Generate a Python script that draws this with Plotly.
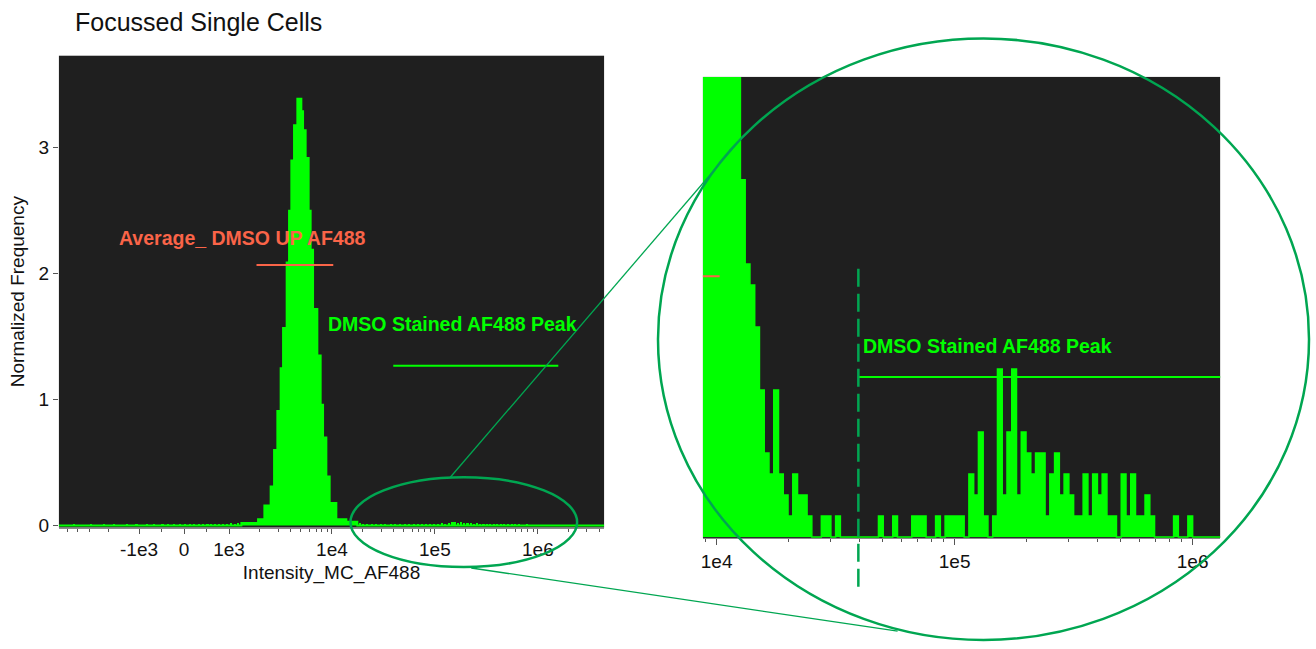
import math
import plotly.graph_objects as go

W, H = 1316, 649
FONT = "Liberation Sans, Arial, sans-serif"
GREEN = "#00FF00"
RING = "#00A651"
ORANGE = "#FA6448"
PANEL_BG = "#1F1F1F"

# ---------------- data ----------------
# Main population histogram: left bin edges (intensity) and normalized frequency per bin
peak_edges = [1319, 1916, 2206, 2539, 2741, 2950, 3176, 3351, 3633, 3832, 4034, 4284, 4613,
              5044, 5240, 5554, 5938, 6210, 6552, 7213, 7768, 8194, 8822, 9497, 11030, 13796, 17640]
peak_freq = [0.02, 0.05, 0.16, 0.31, 0.60, 0.91, 1.25, 1.57, 2.09, 2.50, 2.90, 3.18, 3.39,
             3.29, 3.14, 2.92, 2.50, 2.19, 1.72, 1.35, 0.96, 0.70, 0.39, 0.18, 0.05, 0.03]

# Sparse low-frequency events away from the main peak
sparse_intensity = [-4300, -2950, -2200, -1750, -1300, -1060, -820, -660, -480, -350, -220, -100,
                    20, 130, 230, 330, 430, 520, 600, 690, 780, 870, 950, 1040, 1130, 1230,
                    18500, 20000, 22000, 24500, 27000, 30000, 33000, 37000, 41000, 46000, 51000,
                    56000, 62000, 68000, 75000, 82000, 90000, 98000, 107000, 116000, 126000,
                    137000, 148000, 158000, 168000, 180000, 193000, 207000, 222000, 238000,
                    256000, 275000, 296000, 320000, 345000, 372000, 402000, 435000, 470000,
                    510000, 555000, 605000, 660000, 720000, 790000, 870000, 960000, 1050000]
sparse_freq = [0.008, 0.010, 0.008, 0.012, 0.008, 0.010, 0.008, 0.012, 0.010, 0.012, 0.008, 0.012,
               0.010, 0.014, 0.010, 0.014, 0.012, 0.016, 0.012, 0.016, 0.014, 0.018, 0.016, 0.020,
               0.018, 0.022,
               0.020, 0.012, 0.016, 0.010, 0.012, 0.008, 0.010, 0.008, 0.010, 0.012, 0.008,
               0.012, 0.010, 0.014, 0.012, 0.016, 0.012, 0.018, 0.014, 0.020, 0.016,
               0.022, 0.028, 0.032, 0.026, 0.030, 0.022, 0.020, 0.024, 0.018,
               0.020, 0.016, 0.018, 0.014, 0.016, 0.012, 0.014, 0.012, 0.014,
               0.010, 0.012, 0.008, 0.010, 0.006, 0.008, 0.006, 0.006, 0.005]

# Magnified view: event counts per log10 bin (bins start at 10^3.94, 0.02 decade wide)
ZOOM_LOG_START = 3.94
ZOOM_LOG_WIDTH = 0.02
FREQ_PER_EVENT = 0.1668
zoom_counts = [
    60, 52, 46, 40, 35, 31, 27, 24, 17, 13,
    12, 10, 7, 4, 3, 7, 3, 2, 1, 3,
    2, 2, 1, 0, 0, 1, 1, 0, 1, 0,
    0, 0, 0, 0, 0, 0, 0, 1, 0, 0,
    1, 0, 0, 0, 1, 1, 1, 0, 0, 1,
    0, 1, 1, 1, 1, 0, 3, 2, 5, 1,
    0, 1, 8, 2, 5, 8, 2, 5, 4, 3,
    4, 4, 1, 3, 4, 2, 3, 2, 1, 1,
    3, 1, 3, 2, 3, 1, 1, 0, 3, 1,
    3, 1, 1, 2, 1, 0, 0, 0, 0, 1,
    0, 0, 1, 0, 0, 0, 0, 0, 0,
]

# Gates: intensity limits and the frequency level at which each is drawn
avg_gate = [1850, 10300]
avg_gate_level = 2.07
peak_gate = [39400, 1580000]
peak_gate_level = 1.27

# Axis limits and ticks
left_limits = [-6000, 4.4e6]
left_major = [-1e3, 0, 1e3, 1e4, 1e5, 1e6]
left_major_text = ["-1e3", "0", "1e3", "1e4", "1e5", "1e6"]
left_minor = [-5e3, -4e3, -3e3, -2e3, -500, 500] + [m * 10 ** e for e in (3, 4, 5) for m in range(2, 10)] + [2e6, 3e6, 4e6]
zoom_limits = [8.76e3, 1.305e6]
zoom_major = [1e4, 1e5, 1e6]
zoom_major_text = ["1e4", "1e5", "1e6"]
zoom_minor = [9e3] + [m * 10 ** e for e in (4, 5) for m in range(2, 10)]

# ---------------- scales ----------------
LIN_LIMIT = 1000.0     # half width of the linear region around zero
LIN_DECADES = 0.437    # size of that region, in decades of the log part


def to_axis(v):
    """Symmetric linear/log display scale used on the left intensity axis."""
    a = abs(v)
    if a <= LIN_LIMIT:
        pos = a / LIN_LIMIT * LIN_DECADES
    else:
        pos = LIN_DECADES + math.log10(a / LIN_LIMIT)
    return -pos if v < 0 else pos


def px(x):
    return x / W


def py(y):
    return 1 - y / H


# ---------------- traces ----------------
fig = go.Figure()

# full histogram outline with its zero baseline across the axis
hist_x = [to_axis(left_limits[0])] + [to_axis(e) for e in peak_edges] + [to_axis(left_limits[1])]
hist_y = [0] + peak_freq + [0, 0]
fig.add_trace(go.Scatter(x=hist_x, y=hist_y, mode="lines", line=dict(shape="hv", color=GREEN, width=2),
                         fill="tozeroy", fillcolor=GREEN, hoverinfo="skip", xaxis="x", yaxis="y"))
fig.add_trace(go.Bar(x=[to_axis(v) for v in sparse_intensity], y=sparse_freq, width=0.02,
                     marker=dict(color=GREEN, line=dict(width=0)), hoverinfo="skip", xaxis="x", yaxis="y"))
fig.add_trace(go.Scatter(x=[to_axis(v) for v in avg_gate], y=[avg_gate_level] * 2, mode="lines",
                         line=dict(color=ORANGE, width=2), hoverinfo="skip", xaxis="x", yaxis="y"))
fig.add_trace(go.Scatter(x=[to_axis(v) for v in peak_gate], y=[peak_gate_level] * 2, mode="lines",
                         line=dict(color=GREEN, width=2), hoverinfo="skip", xaxis="x", yaxis="y"))

# magnified histogram on a log axis
zoom_edges = [10 ** (ZOOM_LOG_START + ZOOM_LOG_WIDTH * i) for i in range(len(zoom_counts) + 1)]
zoom_freq = [c * FREQ_PER_EVENT for c in zoom_counts]
fig.add_trace(go.Scatter(x=zoom_edges, y=zoom_freq + [0], mode="lines",
                         line=dict(shape="hv", color=GREEN, width=1.5), fill="tozeroy", fillcolor=GREEN,
                         hoverinfo="skip", xaxis="x2", yaxis="y2"))
fig.add_trace(go.Scatter(x=avg_gate, y=[avg_gate_level] * 2, mode="lines",
                         line=dict(color=ORANGE, width=2), hoverinfo="skip", xaxis="x2", yaxis="y2"))
fig.add_trace(go.Scatter(x=peak_gate, y=[peak_gate_level] * 2, mode="lines",
                         line=dict(color=GREEN, width=2), hoverinfo="skip", xaxis="x2", yaxis="y2"))

# ---------------- layout ----------------
tick_font = dict(family=FONT, size=19, color="#111111")
fig.update_layout(
    width=W, height=H, autosize=False,
    margin=dict(l=0, r=0, t=0, b=0),
    paper_bgcolor="white", plot_bgcolor=PANEL_BG,
    showlegend=False, bargap=0,
    font=dict(family=FONT, size=19, color="#111111"),
    xaxis=dict(domain=[px(57), px(603)], anchor="y",
               range=[to_axis(left_limits[0]), to_axis(left_limits[1])],
               tickmode="array", tickvals=[to_axis(v) for v in left_major], ticktext=left_major_text,
               ticks="outside", ticklen=5, tickcolor="#555555", tickfont=tick_font,
               minor=dict(tickmode="array", tickvals=[to_axis(v) for v in left_minor],
                          ticks="outside", ticklen=3, tickcolor="#555555"),
               showline=True, linecolor="#8a8a8a", linewidth=1, showgrid=False, zeroline=False,
               title=dict(text="Intensity_MC_AF488", font=dict(family=FONT, size=19), standoff=6)),
    yaxis=dict(domain=[py(535), py(56.5)], anchor="x",
               range=[-2 / 127.7, (533 - 56.5) / 127.7],
               tickmode="array", tickvals=[0, 1, 2, 3],
               ticks="outside", ticklen=5, tickcolor="#555555", tickfont=tick_font,
               showline=False, showgrid=False, zeroline=False,
               title=dict(text="Normalized Frequency", font=dict(family=FONT, size=19), standoff=8)),
    xaxis2=dict(domain=[px(702), px(1220)], anchor="y2", type="log",
                range=[math.log10(zoom_limits[0]), math.log10(zoom_limits[1])],
                tickmode="array", tickvals=zoom_major, ticktext=zoom_major_text,
                ticks="outside", ticklen=6, tickcolor="#555555", tickfont=tick_font,
                minor=dict(tickmode="array", tickvals=zoom_minor, ticks="outside", ticklen=3,
                           tickcolor="#555555"),
                showline=True, linecolor="#8a8a8a", linewidth=1, showgrid=False, zeroline=False),
    yaxis2=dict(domain=[py(545.5), py(78)], anchor="x2",
                range=[-1 / 127.7, (544.5 - 78) / 127.7],
                showticklabels=False, ticks="", showline=False, showgrid=False, zeroline=False),
)

# magnifier outline: ring around the sparse region, the enlarged circle and the guide lines
ring_line = dict(color=RING, width=2.5)
fig.add_shape(type="circle", xref="paper", yref="paper", x0=px(349), x1=px(576), y0=py(575), y1=py(484),
              line=ring_line, layer="above")
fig.add_shape(type="circle", xref="paper", yref="paper", x0=px(657), x1=px(1309), y0=py(649), y1=py(39),
              line=ring_line, layer="above")
fig.add_shape(type="line", xref="paper", yref="paper", x0=px(449), y0=py(484), x1=px(740), y1=py(141),
              line=dict(color=RING, width=1.3), layer="above")
fig.add_shape(type="line", xref="paper", yref="paper", x0=px(470), y0=py(576), x1=px(897), y1=py(640),
              line=dict(color=RING, width=1.3), layer="above")
# lower boundary of the peak gate in the magnified view
fig.add_shape(type="line", xref="x2", yref="paper", x0=peak_gate[0], x1=peak_gate[0], y0=py(595), y1=py(272),
              line=dict(color=RING, width=2.5, dash="18px,7px"), layer="above")

label_font = dict(family=FONT, size=19.5, weight="bold")
fig.add_annotation(text="Focussed Single Cells", xref="paper", yref="paper", x=px(71), y=py(22),
                   xanchor="left", yanchor="middle", showarrow=False,
                   font=dict(family=FONT, size=25, color="#111111"))
fig.add_annotation(text="Average_ DMSO UP AF488", xref="paper", yref="paper", x=px(115), y=py(241),
                   xanchor="left", yanchor="middle", showarrow=False, font=dict(label_font, color=ORANGE))
fig.add_annotation(text="DMSO Stained AF488 Peak", xref="paper", yref="paper", x=px(324), y=py(329),
                   xanchor="left", yanchor="middle", showarrow=False, font=dict(label_font, color=GREEN))
fig.add_annotation(text="DMSO Stained AF488 Peak", xref="paper", yref="paper", x=px(860), y=py(351),
                   xanchor="left", yanchor="middle", showarrow=False, font=dict(label_font, color=GREEN))

fig.write_html("out.html", config={"displayModeBar": False, "responsive": False})
